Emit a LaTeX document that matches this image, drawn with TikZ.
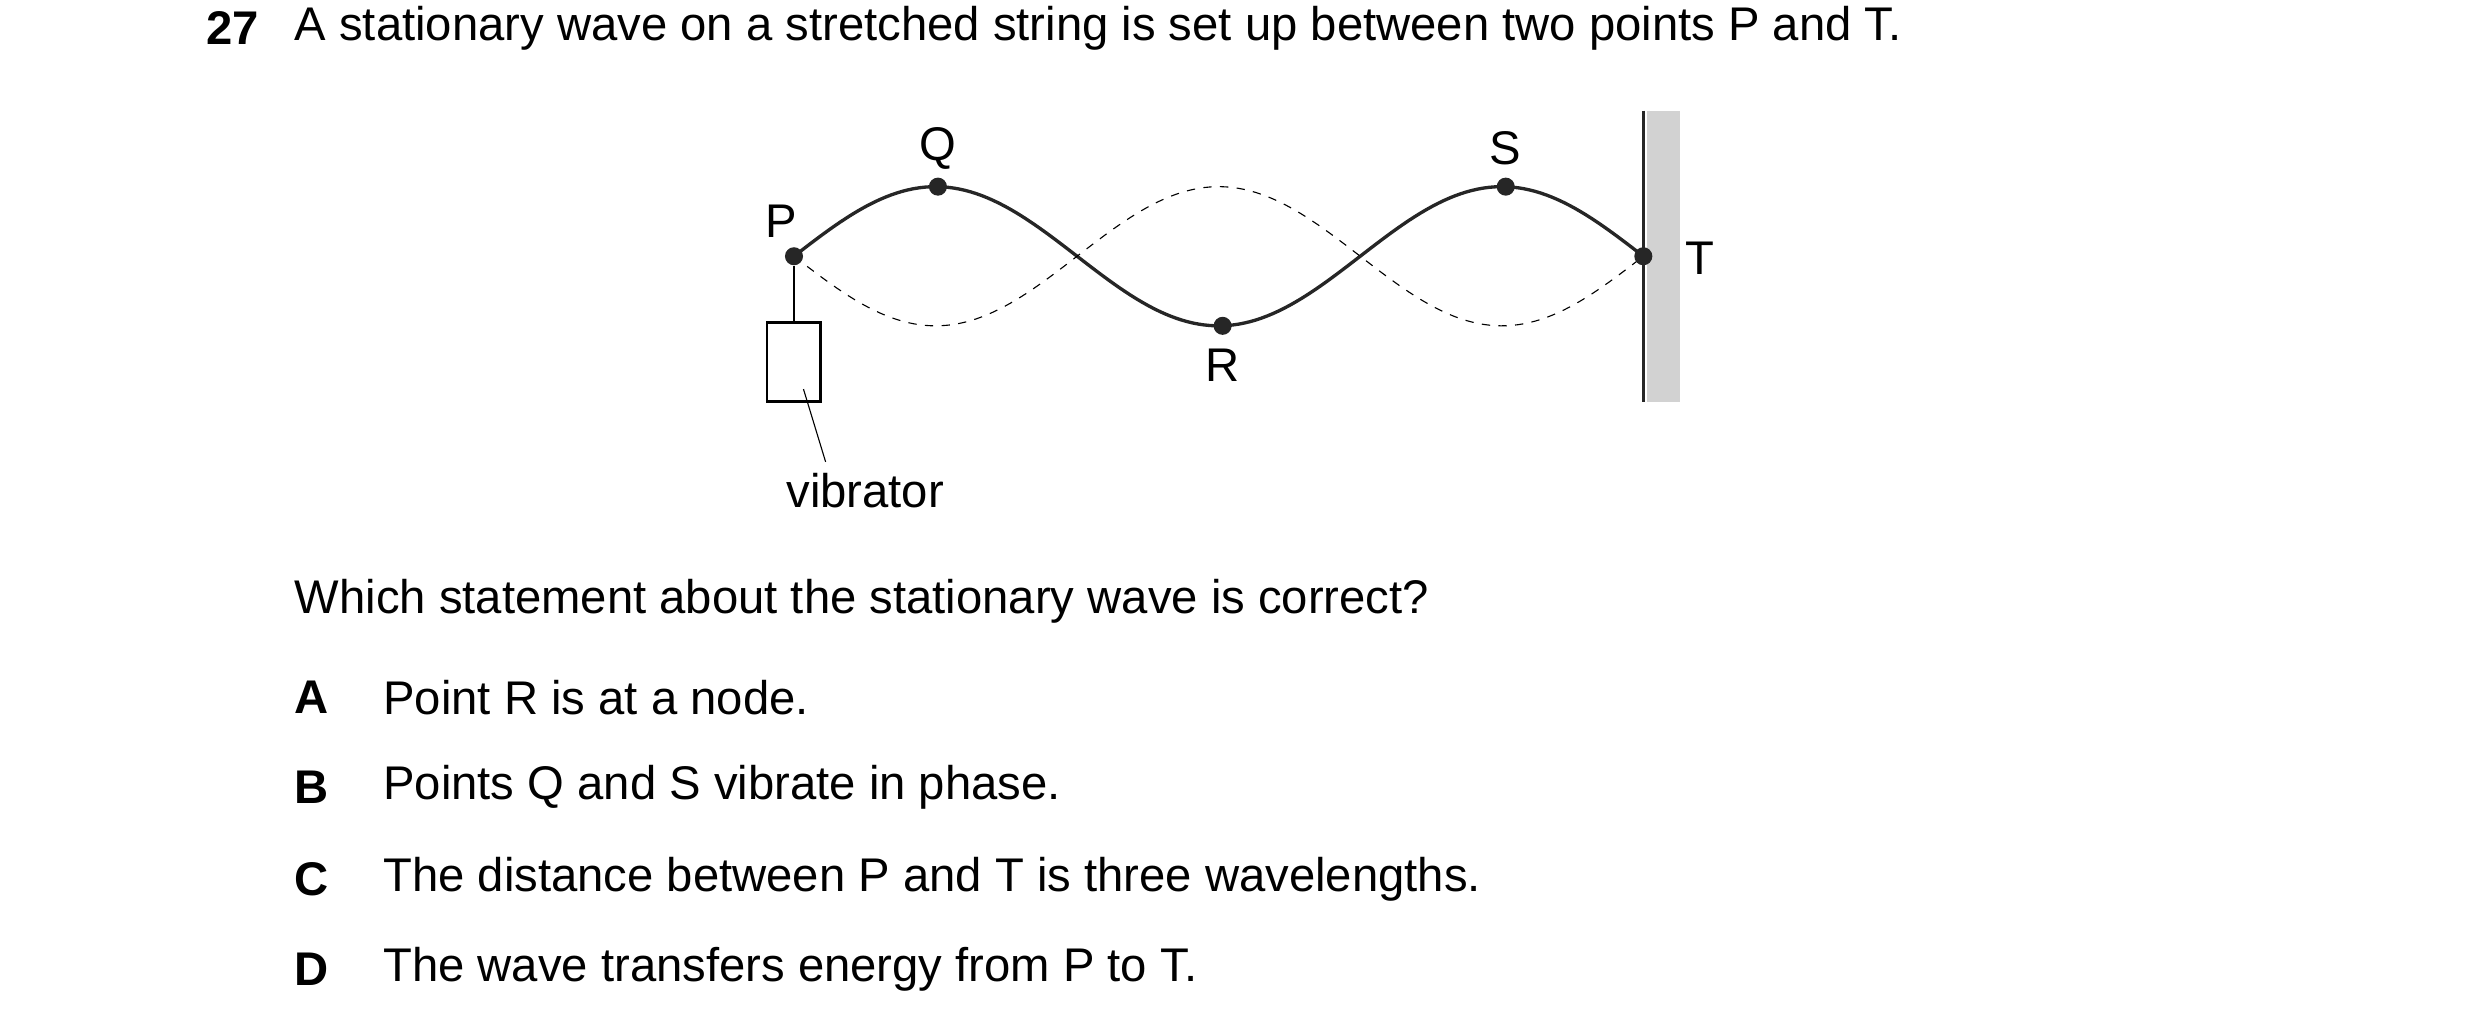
\documentclass[tikz,border=0pt]{standalone}
\usepackage{fontspec}
\setmainfont{Liberation Sans}
\begin{document}
\begin{tikzpicture}[x=0.02cm,y=-0.02cm,
    txt/.style={font=\fontsize{17}{20}\selectfont, inner sep=0pt},
    lbl/.style={font=\fontsize{17}{20}\selectfont, inner sep=0pt},
    dot/.style={circle, fill=black!85, inner sep=0pt, minimum size=6.5pt}]
  \useasboundingbox (0,0) rectangle (1568,654);
  % question text
  \node[txt, font=\fontsize{17}{20}\selectfont\bfseries] (num) at (147,18) {27};
  \node[txt, anchor=west] (q) at (186,18) {A stationary wave on a stretched string is set up between two points P and T.};
  % wall
  \fill[gray!35] (1041,70) rectangle (1062,254);
  \draw[line width=1.3pt, black!85] (1039,70) -- (1039,254);
  % wave
  \draw[line width=1.2pt, black!85] plot[domain=502:1039, samples=150] (\x, {162-44*sin((\x-502)/179*180)});
  \draw[dashed, thin] plot[domain=502:1039, samples=150] (\x, {162+44*sin((\x-502)/179*180)});
  % points
  \node[dot] (P) at (502,162) {};
  \node[dot] (Q) at (593,118) {};
  \node[dot] (R) at (773,206) {};
  \node[dot] (S) at (952,118) {};
  \node[dot] (T) at (1039,162) {};
  \node[lbl] at (494,140) {P};
  \node[lbl] at (593,94) {Q};
  \node[lbl] at (773,231) {R};
  \node[lbl] at (952,94) {S};
  \node[lbl] at (1075,163) {T};
  % vibrator
  \node[draw, line width=1pt, minimum width=0.68cm, minimum height=1cm, inner sep=0pt] (vib) at (502,229) {};
  \draw[line width=1pt] (P) -- (vib.north);
  \coordinate (vtip) at (508,246);
  \node[lbl] (vlab) at (547,310) {vibrator};
  \draw[thin] (vtip) -- (522,292);
  % statements
  \node[txt, anchor=west] (ask) at (186,380) {Which statement about the stationary wave is correct?};
  \foreach \l/\t/\y in {A/{Point R is at a node.}/441,
                        B/{Points Q and S vibrate in phase.}/498,
                        C/{The distance between P and T is three wavelengths.}/556,
                        D/{The wave transfers energy from P to T.}/613} {
    \node[txt, font=\fontsize{17}{20}\selectfont\bfseries] (opt\l) at (197,\y) {\l};
    \node[txt, anchor=west] (txt\l) at (242,\y) {\t};
  }
\end{tikzpicture}
\end{document}
